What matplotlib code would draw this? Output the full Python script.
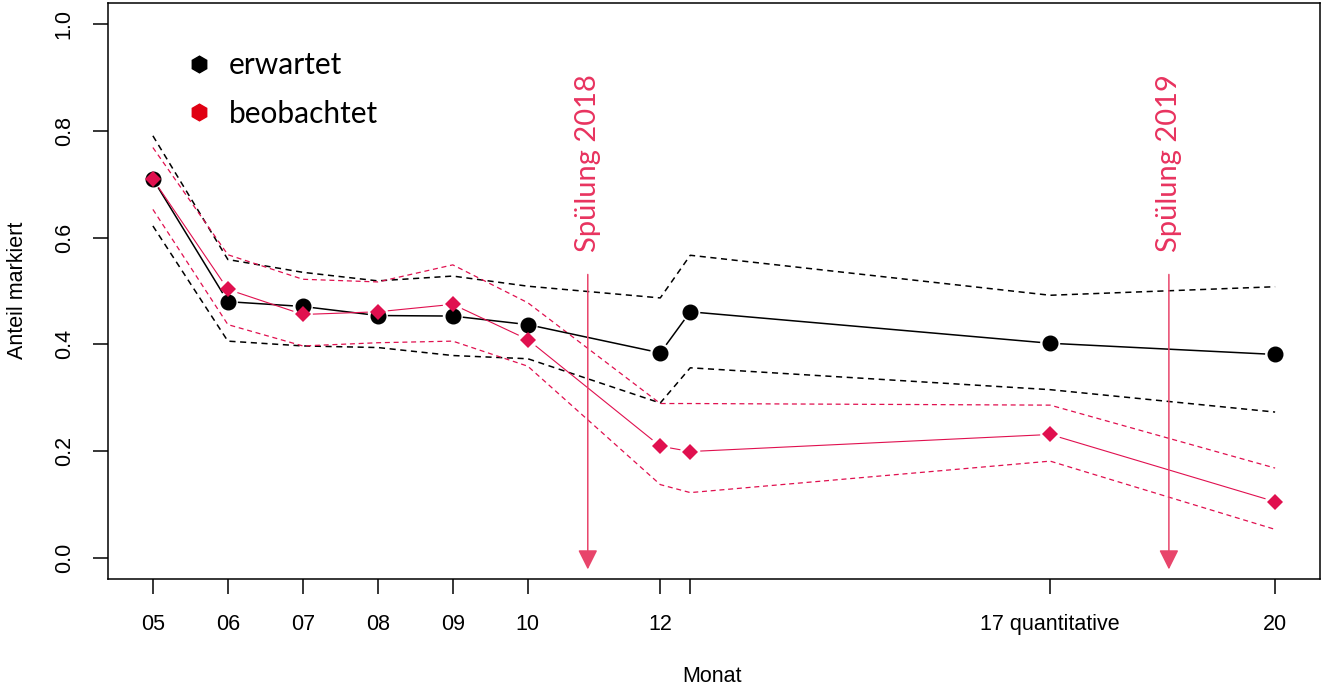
import matplotlib

matplotlib.use("Agg")
import matplotlib.pyplot as plt
import numpy as np
from matplotlib.lines import Line2D

# sampling dates, days after the first survey (May)
x_days = [0, 30, 60, 90, 120, 150, 203, 215, 359, 449]
x_labels = ["05", "06", "07", "08", "09", "10", "12", "", "17 quantitative", "20"]

expected = [0.710, 0.480, 0.471, 0.454, 0.453, 0.437, 0.384, 0.461, 0.402, 0.381]
exp_lo = [0.622, 0.406, 0.397, 0.394, 0.379, 0.373, 0.290, 0.356, 0.315, 0.273]
exp_hi = [0.791, 0.559, 0.535, 0.519, 0.528, 0.509, 0.487, 0.567, 0.492, 0.508]

observed = [0.710, 0.503, 0.456, 0.461, 0.475, 0.409, 0.209, 0.199, 0.231, 0.105]
obs_lo = [0.653, 0.437, 0.397, 0.403, 0.406, 0.359, 0.137, 0.122, 0.181, 0.053]
obs_hi = [0.769, 0.568, 0.522, 0.517, 0.549, 0.478, 0.289, 0.289, 0.286, 0.168]

flush_days = [174, 406.5]
flush_labels = ["Spülung 2018", "Spülung 2019"]

RED = "#E0104F"
ARROW = "#E8456B"
TXT = "#E8335F"
TICKFONT = "Liberation Sans"
TEXTFONT = "Lato"


def gapped_line(ax, x, y, gap=10, **kw):
    """R type='b': segments that stop short of the points."""
    pts = ax.transData.transform(np.column_stack([x, y]))
    inv = ax.transData.inverted()
    for p0, p1 in zip(pts[:-1], pts[1:]):
        d = p1 - p0
        L = np.hypot(*d)
        if L <= 2 * gap:
            continue
        u = d / L
        a, b = inv.transform(np.array([p0 + u * gap, p1 - u * gap]))
        ax.plot([a[0], b[0]], [a[1], b[1]], solid_capstyle="butt", **kw)


fig = plt.figure(figsize=(13.23, 6.88), dpi=100)
ax = fig.add_axes([108 / 1323, 1 - 579 / 688, 1212 / 1323, 576 / 688])

w = x_days[-1] - x_days[0]
ax.set_xlim(x_days[0] - 0.04 * w, x_days[-1] + 0.04 * w)
ax.set_ylim(-0.04, 1.04)

dash = (0, (4, 3))
ax.plot(x_days, exp_hi, color="black", lw=1.1, ls=dash)
ax.plot(x_days, exp_lo, color="black", lw=1.1, ls=dash)
ax.plot(x_days, obs_hi, color=RED, lw=0.9, ls=dash)
ax.plot(x_days, obs_lo, color=RED, lw=0.9, ls=dash)

gapped_line(ax, x_days, expected, color="black", lw=1.1)
gapped_line(ax, x_days, observed, color=RED, lw=0.8)

ax.plot(x_days, expected, "o", color="black", ms=10.5, ls="none")
ax.plot(x_days, observed, "D", color=RED, ms=8.5, mew=0, ls="none")

for xd, lab in zip(flush_days, flush_labels):
    ax.annotate(
        "",
        xy=(xd, -0.022),
        xytext=(xd, 0.531),
        arrowprops=dict(
            arrowstyle="-|>,head_length=0.6,head_width=0.3",
            mutation_scale=20,
            color=ARROW,
            lw=1.1,
            shrinkA=0,
            shrinkB=0,
        ),
    )
    ax.text(xd, 0.574, lab, rotation=90, ha="center", va="bottom",
            color=TXT, fontsize=21, family=TEXTFONT)

handles = [
    Line2D([], [], marker="h", color="black", ls="none", ms=12),
    Line2D([], [], marker="h", color="#E00012", ls="none", ms=12),
]
ax.legend(handles, ["erwartet", "beobachtet"], loc="upper left",
          bbox_to_anchor=(0.053, 0.937), borderaxespad=0, frameon=False,
          handlelength=1.0, handletextpad=0.5, labelspacing=0.68,
          prop={"family": TEXTFONT, "size": 21.5})

ax.set_xticks(x_days)
ax.set_xticklabels(x_labels, family=TICKFONT, fontsize=15.5)
ax.set_yticks([0, 0.2, 0.4, 0.6, 0.8, 1.0])
ax.set_yticklabels(["0.0", "0.2", "0.4", "0.6", "0.8", "1.0"], family=TICKFONT,
                   fontsize=15.5, rotation=90, va="center")
ax.tick_params(axis="both", length=11, width=1.1, direction="out")
ax.tick_params(axis="x", pad=14)
ax.tick_params(axis="y", pad=13)
for s in ax.spines.values():
    s.set_linewidth(1.1)

fig.text(712 / 1323, 1 - 676 / 688, "Monat", ha="center", va="center",
         family=TICKFONT, fontsize=15.5)
fig.text(18 / 1323, 1 - 290 / 688, "Anteil markiert", ha="center", va="center",
         rotation=90, family=TICKFONT, fontsize=15.5)

fig.savefig("out.png", dpi=100)
